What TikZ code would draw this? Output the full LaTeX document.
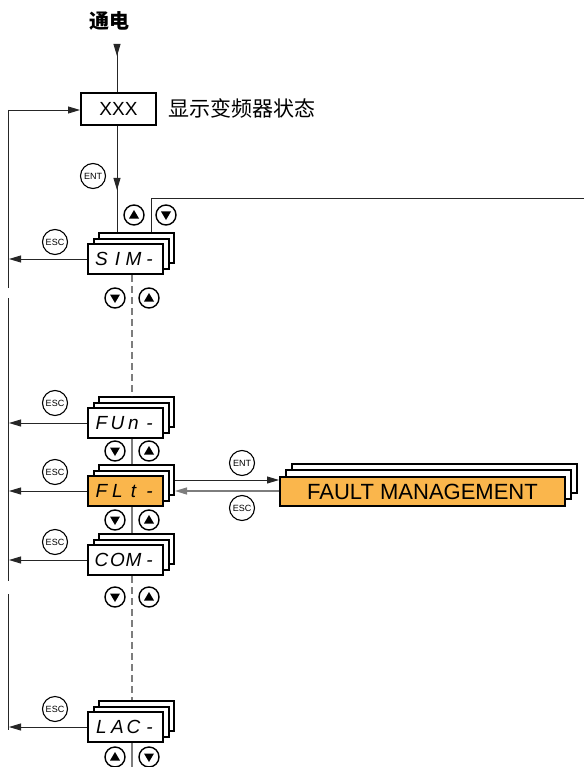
\documentclass[tikz,border=0pt]{standalone}
\usepackage{fontspec}
\setmainfont{Liberation Sans}
\newfontfamily\cjk{Noto Sans CJK SC}
\usetikzlibrary{arrows.meta}
\definecolor{fmorange}{RGB}{250,182,76}
\definecolor{lgray}{RGB}{125,125,125}
\newcommand\segtxt[4]{\fontsize{19}{19}\selectfont\itshape\makebox[16pt]{#1}\makebox[16pt]{#2}\makebox[16pt]{#3}\makebox[16pt]{#4}}
\newcommand\menustack[5]{%
  \node[box] (#1c) at (#2+11,#3-11) {};
  \node[box] (#1b) at (#2+5.5,#3-5.5) {};
  \node[box, fill=#4] (#1) at (#2,#3) {#5};
}
\begin{document}
\begin{tikzpicture}[x=1pt,y=-1pt,
  box/.style={draw=black, line width=2pt, fill=white, minimum width=75pt, minimum height=30pt, inner sep=0pt},
  bigbox/.style={box, minimum width=285pt, minimum height=29pt},
  key/.style={circle, draw=black, line width=1.1pt, fill=white, minimum size=25pt, inner sep=0pt, font=\fontsize{9}{9}\selectfont},
  btn/.style={circle, draw=black, line width=1.4pt, fill=white, minimum size=20pt, inner sep=0pt},
  upbtn/.style={btn, path picture={\fill[black] ([shift={(-5pt,-3.5pt)}]path picture bounding box.center) -- ++(10pt,0pt) -- ++(-5pt,8.5pt) -- cycle;}},
  dnbtn/.style={btn, path picture={\fill[black] ([shift={(-5pt,3.5pt)}]path picture bounding box.center) -- ++(10pt,0pt) -- ++(-5pt,-8.5pt) -- cycle;}},
  conn/.style={line width=0.9pt, draw=black!85},
  gconn/.style={line width=1.2pt, draw=lgray},
  dconn/.style={gconn, dash pattern=on 7pt off 4pt},
  arr/.style={-{Triangle[length=12pt,width=7pt]}},
]
\useasboundingbox (0,0) rectangle (584,767);

% power on and status
\node (power) at (109,21) {\cjk\bfseries\fontsize{20}{20}\selectfont 通电};
\coordinate (ptop) at (117,45);
\coordinate (pmid) at (117,56);
\node[draw, line width=2pt, minimum width=75pt, minimum height=32pt, inner sep=0pt, font=\fontsize{19}{19}\selectfont] (xxx) at (118.5,109) {XXX};
\node[anchor=west, inner sep=0pt] (status) at (168,108) {\cjk\fontsize{21}{21}\selectfont 显示变频器状态};
\draw[conn] (ptop) -- (xxx.north -| ptop);
\draw[conn, arr] (ptop) -- (pmid);

% menu stacks
\menustack{sim}{125.5}{259}{white}{\segtxt{S}{I}{M}{-}}
\menustack{fun}{125.5}{423}{white}{\segtxt{F}{U}{n}{-}}
\menustack{flt}{125.5}{491}{fmorange}{\segtxt{F}{L}{t}{-}}
\menustack{com}{125.5}{560}{white}{\segtxt{C}{O}{M}{-}}
\menustack{lac}{125.5}{727}{white}{\segtxt{L}{A}{C}{-}}

% XXX -> SIM
\coordinate (entmid) at (117,190);
\draw[conn] (xxx.south -| ptop) -- (simc.north -| ptop);
\draw[conn, arr] (xxx.south -| ptop) -- (entmid);
\node[key] (ent1) at (93,176) {ENT};

% return line on the right
\coordinate (rtop) at (151,198);
\coordinate (redge) at (584,198);
\draw[conn] (simc.north -| rtop) -- (rtop) -- (redge);
\node[upbtn] (simup) at (134,215) {};
\node[dnbtn] (simdn) at (166,215) {};

% left return line
\coordinate (lt) at (8,110);
\coordinate (l1) at (8,288);
\coordinate (l2) at (8,298);
\coordinate (l3) at (8,581);
\coordinate (l4) at (8,594);
\coordinate (l5) at (8,730);
\draw[conn] (lt) -- (l1) (l2) -- (l3) (l4) -- (l5);
\draw[conn, arr] (lt) -- (xxx.west |- lt);

% ESC arrows to the left line
\foreach \m in {sim,fun,flt,com,lac}{
  \draw[conn, arr, shorten >=1pt] (\m.west) -- (\m.west -| lt);
}
\node[key] (esc1) at (55,242) {ESC};
\node[key] (esc2) at (55,403) {ESC};
\node[key] (esc3) at (55,472) {ESC};
\node[key] (esc4) at (55,542) {ESC};
\node[key] (esc5) at (55,709) {ESC};

% vertical chain between menus
\coordinate (vx) at (132,0);
\coordinate (vbot) at (132,767);
\draw[dconn] (sim.south -| vx) -- (func.north -| vx);
\draw[gconn] (fun.south -| vx) -- (fltc.north -| vx);
\draw[gconn] (flt.south -| vx) -- (comc.north -| vx);
\draw[dconn] (com.south -| vx) -- (lacc.north -| vx);
\draw[gconn] (lac.south -| vx) -- (vbot);

\node[dnbtn] (b1d) at (115,298) {};
\node[upbtn] (b1u) at (149,298) {};
\node[dnbtn] (b2d) at (115,451) {};
\node[upbtn] (b2u) at (149,451) {};
\node[dnbtn] (b3d) at (115,520) {};
\node[upbtn] (b3u) at (149,520) {};
\node[dnbtn] (b4d) at (115,597) {};
\node[upbtn] (b4u) at (149,597) {};
\node[upbtn] (b5u) at (115,757) {};
\node[dnbtn] (b5d) at (149,757) {};

% fault management stack
\node[bigbox] (fmc) at (434.5,478.5) {};
\node[bigbox] (fmb) at (428.5,484.5) {};
\node[bigbox, fill=fmorange, font=\fontsize{22}{22}\selectfont] (fm) at (422.5,491.5) {FAULT MANAGEMENT};
\draw[conn, arr] (fltc.east) -- (fltc.east -| fm.west);
\draw[gconn, arr] (fm.west |- flt.east) -- (flt.east -| fltc.east);
\node[key] (ent2) at (242,463) {ENT};
\node[key] (esc6) at (242,508) {ESC};
\end{tikzpicture}
\end{document}
